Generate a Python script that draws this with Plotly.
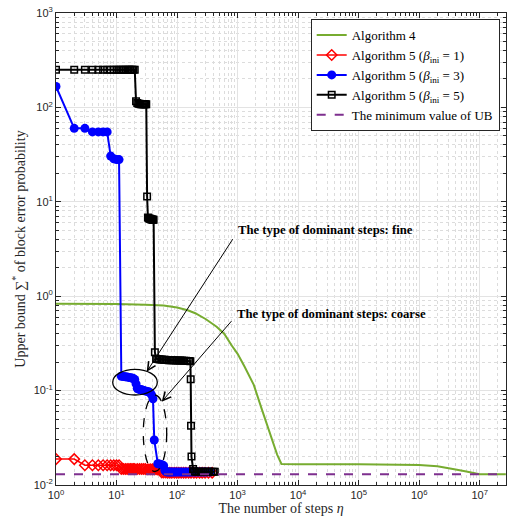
import plotly.graph_objects as go

# ---------------- data ----------------
alg4_x = [1, 3, 10, 30, 60, 100, 150, 200, 300, 450, 600, 800, 1000, 1300, 1850,
          2500, 3500, 4500, 5300, 10000, 1e5, 5e5, 1e6, 2e6, 3e6, 4e6, 6e6, 8e6, 1e7, 2.7e7]
alg4_y = [0.83, 0.83, 0.825, 0.81, 0.795, 0.76, 0.71, 0.66, 0.57, 0.475, 0.40, 0.30, 0.245, 0.18, 0.115,
          0.064, 0.033, 0.021, 0.0167, 0.0166, 0.0166, 0.0165, 0.0163, 0.0158, 0.0152, 0.0146, 0.0139, 0.0134, 0.0130, 0.0130]

red_x = [1, 2, 3, 4, 5, 6, 7, 8, 9, 10, 11,
         12, 13, 14, 15, 16, 17, 18, 19, 20, 22, 24, 26, 28, 30, 33, 36, 39, 42, 45, 48, 52,
         56, 60, 65, 70, 76, 82, 90, 98, 107, 117, 128, 140, 155, 170, 190, 210, 235, 260, 290, 330, 380]
red_y = [0.0188, 0.0188, 0.0162, 0.0162, 0.0162, 0.0162, 0.0162, 0.0162, 0.0162, 0.0162, 0.0162,
         0.0148, 0.0148, 0.0148, 0.0148, 0.0148, 0.0148, 0.0148, 0.0148, 0.0148, 0.0148, 0.0148, 0.0148,
         0.0148, 0.0148, 0.0147, 0.0147, 0.0147, 0.0147, 0.0147, 0.0146, 0.0146,
         0.0136, 0.0136, 0.0136, 0.0135, 0.0135, 0.0135, 0.0135, 0.0135, 0.0135, 0.0135, 0.0135, 0.0135,
         0.0135, 0.0135, 0.0135, 0.0135, 0.0135, 0.0135, 0.0135, 0.0135, 0.0135]

blue_x = [1, 2, 3, 4, 5, 6, 7, 8, 9, 10, 11,
          12, 13, 14, 15, 16, 17, 18, 19, 20, 21, 22, 23, 24, 25, 26, 27, 28, 30, 32, 34, 36, 38, 40,
          42, 48, 51, 54, 57, 60, 63, 66, 70, 75, 80, 86, 93, 100, 110, 120, 132, 145, 160, 175,
          195, 215, 240, 270, 300, 350]
blue_y = [167, 60, 60, 55, 55, 55, 55, 30.5, 28.5, 28, 28,
          0.142, 0.141, 0.140, 0.139, 0.138, 0.137, 0.136, 0.134, 0.131, 0.118, 0.106, 0.104, 0.103,
          0.102, 0.102, 0.101, 0.100, 0.099, 0.098, 0.097, 0.095, 0.090, 0.082,
          0.030, 0.0168, 0.0167, 0.0165, 0.0163, 0.0160, 0.0142, 0.0138, 0.0137, 0.0137, 0.0137,
          0.0137, 0.0137, 0.0137, 0.0137, 0.0137, 0.0137, 0.0137, 0.0137, 0.0137,
          0.0137, 0.0137, 0.0137, 0.0137, 0.0137, 0.0137]

black_x = [1, 2, 3, 4, 5, 6, 7, 8, 9, 10, 11, 12, 13, 14, 15, 16, 17, 18, 19, 20,
           21, 22, 23, 24, 25, 26, 27, 28, 29, 30, 31,
           32, 33, 34, 35, 36, 37, 38, 39, 40, 41,
           43, 45, 47, 50, 53, 56, 60, 64, 68, 73, 78, 84, 90, 97, 104, 112, 120, 130, 140, 150, 160, 166,
           168, 170, 173, 184, 190, 200, 215, 230, 250, 270, 290, 315, 340, 370, 400, 420]
black_y = [250, 250, 250, 250, 250, 250, 250, 250, 250, 250, 250, 250, 250, 250, 250, 250, 250, 250, 250, 250,
           116, 111, 109, 109, 108, 108, 108, 108, 108, 108, 108,
           11.4, 6.8, 6.7, 6.6, 6.6, 6.55, 6.5, 6.5, 6.45, 6.45,
           0.255, 0.218, 0.216, 0.215, 0.214, 0.213, 0.212, 0.212, 0.211, 0.21, 0.21, 0.21, 0.21,
           0.209, 0.209, 0.208, 0.208, 0.207, 0.207, 0.206, 0.206, 0.205,
           0.132, 0.0425, 0.020, 0.0148, 0.0140, 0.0138, 0.0138, 0.0138, 0.0138, 0.0138, 0.0138,
           0.0138, 0.0138, 0.0138, 0.0138, 0.0138]

min_x = [1, 2.7e7]
min_y = [0.0130, 0.0130]

x_tickvals = [1, 10, 100, 1e3, 1e4, 1e5, 1e6, 1e7]
x_ticktext = ['10<sup>0</sup>', '10<sup>1</sup>', '10<sup>2</sup>', '10<sup>3</sup>',
              '10<sup>4</sup>', '10<sup>5</sup>', '10<sup>6</sup>', '10<sup>7</sup>']
y_tickvals = [1e-2, 1e-1, 1, 10, 100, 1000]
y_ticktext = ['10<sup>-2</sup>', '10<sup>-1</sup>', '10<sup>0</sup>', '10<sup>1</sup>',
              '10<sup>2</sup>', '10<sup>3</sup>']

# ---------------- figure ----------------
SERIF = 'Liberation Serif'
SANS = 'Liberation Sans'
AX = '#262626'

fig = go.Figure()
fig.add_trace(go.Scatter(x=alg4_x, y=alg4_y, mode='lines', name='Algorithm 4',
                         line=dict(color='#77AC30', width=2)))
fig.add_trace(go.Scatter(x=red_x, y=red_y, mode='lines+markers',
                         name='Algorithm 5 (<i>β</i><sub>ini</sub> = 1)',
                         line=dict(color='#FF0000', width=1.5),
                         marker=dict(symbol='diamond-open', size=8, color='#FF0000', line=dict(width=1.5))))
fig.add_trace(go.Scatter(x=blue_x, y=blue_y, mode='lines+markers',
                         name='Algorithm 5 (<i>β</i><sub>ini</sub> = 3)',
                         line=dict(color='#0000FF', width=2),
                         marker=dict(symbol='circle', size=9, color='#0000FF')))
fig.add_trace(go.Scatter(x=black_x, y=black_y, mode='lines+markers',
                         name='Algorithm 5 (<i>β</i><sub>ini</sub> = 5)',
                         line=dict(color='#000000', width=2),
                         marker=dict(symbol='square-open', size=6.5, color='#000000', line=dict(width=1.5))))
fig.add_trace(go.Scatter(x=min_x, y=min_y, mode='lines', name='The minimum value of UB',
                         line=dict(color='#7E2F8E', width=2, dash='dash')))

axis_common = dict(
    type='log', showline=True, linecolor=AX, linewidth=1, mirror='allticks',
    ticks='inside', ticklen=5, tickcolor=AX, tickwidth=1, automargin=False,
    showgrid=True, gridcolor='#e3e3e3', gridwidth=1, zeroline=False,
    tickfont=dict(family=SANS, size=11, color=AX),
    minor=dict(dtick='D1', ticks='inside', ticklen=3, tickcolor=AX,
               showgrid=True, gridcolor='#dcdcdc', griddash='dot', gridwidth=1),
)

fig.update_xaxes(range=[0, 7.434], tickvals=x_tickvals, ticktext=x_ticktext,
                 title=dict(text='The number of steps <i>η</i>', font=dict(family=SERIF, size=14, color=AX),
                            standoff=2),
                 **axis_common)
fig.update_yaxes(range=[-2, 3], tickvals=y_tickvals, ticktext=y_ticktext,
                 title=dict(text='Upper bound ∑<sup>*</sup> of block error probability',
                            font=dict(family=SERIF, size=14, color=AX), standoff=4),
                 **axis_common)

def px2paper(px, py):
    return (px - 56) / 450.0, (485 - py) / 472.0

# ellipses
ex0, ey0 = px2paper(112.7, 395)
ex1, ey1 = px2paper(157.3, 369.3)
fig.add_shape(type='circle', xref='paper', yref='paper', x0=ex0, x1=ex1, y0=ey0, y1=ey1,
              line=dict(color='black', width=1.3))
dx0, dy0 = px2paper(143.3, 471.5)
dx1, dy1 = px2paper(166.7, 395)
fig.add_shape(type='circle', xref='paper', yref='paper', x0=dx0, x1=dx1, y0=dy0, y1=dy1,
              line=dict(color='black', width=1.3, dash='dash'))

# annotation texts
tx, ty = px2paper(236, 230)
fig.add_annotation(xref='paper', yref='paper', x=tx, y=ty, xanchor='left', yanchor='middle',
                   text='<b>The type of dominant steps: fine</b>', showarrow=False,
                   font=dict(family=SERIF, size=12.7, color='black'))
tx, ty = px2paper(235, 314)
fig.add_annotation(xref='paper', yref='paper', x=tx, y=ty, xanchor='left', yanchor='middle',
                   text='<b>The type of dominant steps: coarse</b>', showarrow=False,
                   font=dict(family=SERIF, size=12.7, color='black'))

# arrows
ax_, ay_ = px2paper(146.7, 371.7)
fig.add_annotation(xref='paper', yref='paper', x=ax_, y=ay_, text='', showarrow=True,
                   ax=87, ay=-134, arrowhead=5, arrowsize=1.6, arrowwidth=1, arrowcolor='black')
ax_, ay_ = px2paper(161.7, 401.7)
fig.add_annotation(xref='paper', yref='paper', x=ax_, y=ay_, text='', showarrow=True,
                   ax=71, ay=-82, arrowhead=5, arrowsize=1.6, arrowwidth=1, arrowcolor='black')

fig.update_layout(
    width=508, height=521,
    margin=dict(l=56, r=2, t=13, b=36, autoexpand=False),
    paper_bgcolor='white', plot_bgcolor='white',
    legend=dict(x=0.986, y=0.987, xanchor='right', yanchor='top',
                bgcolor='white', bordercolor=AX, borderwidth=1,
                font=dict(family=SERIF, size=13, color='black'),
                tracegroupgap=0, itemwidth=30),
    showlegend=True,
)

fig.write_html('out.html', config={'displayModeBar': False},
               post_script="document.body.style.margin='0px';document.body.style.overflow='hidden';")
